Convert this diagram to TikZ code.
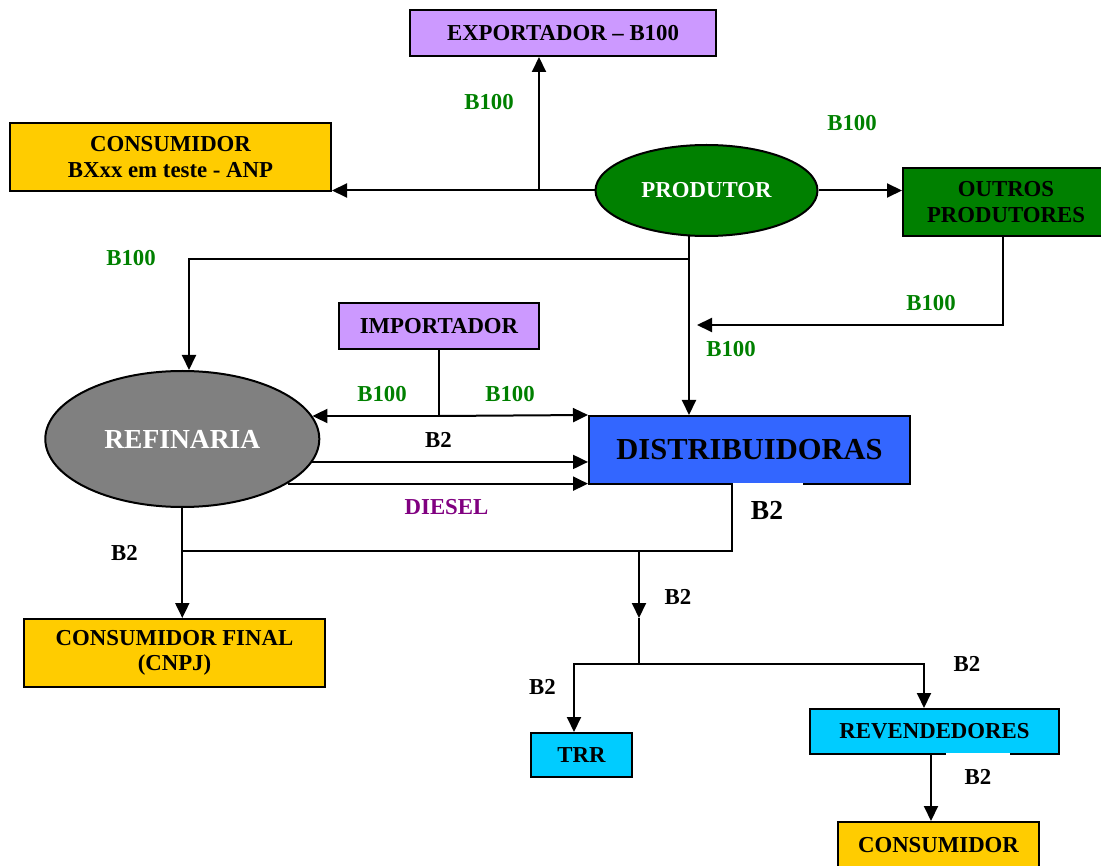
\documentclass[tikz,border=0pt]{standalone}
\usepackage{fontspec}
\setmainfont{Liberation Serif}
\usetikzlibrary{arrows.meta,shapes.geometric}
\definecolor{gold}{HTML}{FFCC00}
\definecolor{lav}{HTML}{CC99FF}
\definecolor{dgreen}{HTML}{008000}
\definecolor{midgray}{HTML}{808080}
\definecolor{dblue}{HTML}{3366FF}
\definecolor{cyanbox}{HTML}{00CCFF}
\definecolor{dpurple}{HTML}{800080}
\begin{document}
\begin{tikzpicture}[x=1pt,y=-1pt,
  font=\bfseries\fontsize{22.8}{25.5}\selectfont,
  box/.style={draw=black, line width=2pt, inner sep=0pt, align=center},
  oval/.style={ellipse, draw=black, line width=2pt, inner sep=0pt},
  conn/.style={line width=2pt},
  arr/.style={conn, -{Triangle[length=15pt,width=14pt]}},
  lbl/.style={inner sep=0pt},
  glbl/.style={lbl, text=dgreen}]
\useasboundingbox (0,0) rectangle (1101,866);
\clip (0,0) rectangle (1101,866);

% nodes
\node[box, fill=lav, minimum width=306, minimum height=46] (exp) at (563,33) {EXPORTADOR -- B100};
\node[box, fill=gold, minimum width=321, minimum height=68] (cons1) at (170.5,157) {CONSUMIDOR\\BXxx em teste - ANP};
\node[oval, fill=dgreen, minimum width=222, minimum height=91, text=white] (prod) at (706.5,190.5) {PRODUTOR};
\node[box, fill=dgreen, minimum width=206, minimum height=68] (out) at (1006,202) {OUTROS\\PRODUTORES};
\node[box, fill=lav, minimum width=200, minimum height=46] (imp) at (439,326) {IMPORTADOR};
\node[oval, fill=midgray, minimum width=274, minimum height=136, text=white, font=\bfseries\fontsize{27.5}{30}\selectfont] (ref) at (182.3,439) {REFINARIA};
\node[box, fill=dblue, minimum width=321, minimum height=68, font=\bfseries\fontsize{30.5}{33}\selectfont] (dist) at (749.5,450) {DISTRIBUIDORAS};
\node[box, fill=gold, minimum width=301, minimum height=68] (cfin) at (174.5,653) {CONSUMIDOR FINAL\\(CNPJ)};
\node[box, fill=cyanbox, minimum width=101, minimum height=44] (trr) at (581.5,755) {TRR};
\node[box, fill=cyanbox, minimum width=249, minimum height=45] (rev) at (934.5,731.5) {REVENDEDORES};
\node[box, fill=gold, minimum width=201, minimum height=46] (cons2) at (938.5,845) {CONSUMIDOR};

% border artifacts
\draw[white, line width=2.1pt] (733,484) -- (803,484);
\draw[white, line width=2.1pt] (946,754) -- (1010,754);

% coordinates
\coordinate (j1) at (539,190.5);
\coordinate (p1) at (689,235);
\coordinate (p2) at (689,259);
\coordinate (p3) at (189,259);
\coordinate (o1) at (1003,236);
\coordinate (o2) at (1003,325);
\coordinate (o3) at (697,325);
\coordinate (j3) at (439,416);
\coordinate (d1) at (732,484);
\coordinate (d2) at (732,551);
\coordinate (k1) at (639,551);
\coordinate (k2) at (639,618);
\coordinate (k3) at (639,664);
\coordinate (k4) at (574,664);
\coordinate (k5) at (924,664);
\coordinate (r1) at (931,754);

% connectors
\draw[arr] (prod.west) -- (prod.west -| cons1.east);
\draw[arr] (j1) -- (j1 |- exp.south);
\draw[arr] (prod.east) -- (prod.east -| out.west);
\draw[arr] (p1) -- (p1 |- dist.north);
\draw[arr] (p2) -- (p3) -- (p3 |- ref.north);
\draw[arr] (o1) -- (o2) -- (o3);
\draw[conn] (imp.south) -- (j3);
\draw[arr] (j3) -- (j3 -| ref.10);
\draw[arr] (j3) -- (dist.north west);
\draw[arr] (ref.-10) -- (ref.-10 -| dist.west);
\draw[arr] (ref.-23.6) -- (ref.-23.6 -| dist.west);
\draw[arr] (ref.south) -- (ref.south |- cfin.north);
\draw[conn] (d1) -- (d2) -- (ref.south |- d2);
\draw[arr] (k1) -- (k2);
\draw[conn] (k2) -- (k3);
\draw[arr] (k3) -- (k4) -- (k4 |- trr.north);
\draw[arr] (k3) -- (k5) -- (k5 |- rev.north);
\draw[arr] (r1) -- (r1 |- cons2.north);

% labels
\node[glbl] (l1) at (489,102) {B100};
\node[glbl] (l2) at (852,123) {B100};
\node[glbl] (l3) at (131,258) {B100};
\node[glbl] (l4) at (931,303) {B100};
\node[glbl] (l5) at (731,349) {B100};
\node[glbl] (l6) at (382,394) {B100};
\node[glbl] (l7) at (510,394) {B100};
\node[lbl] (l8) at (438.5,440) {B2};
\node[lbl, text=dpurple] (l9) at (446.5,507.5) {DIESEL};
\node[lbl, font=\bfseries\fontsize{27.5}{30}\selectfont] (l10) at (767,510) {B2};
\node[lbl] (l11) at (124.5,552.5) {B2};
\node[lbl] (l12) at (678,597) {B2};
\node[lbl] (l13) at (542.5,687) {B2};
\node[lbl] (l14) at (967,664) {B2};
\node[lbl] (l15) at (978,777) {B2};
\end{tikzpicture}
\end{document}
